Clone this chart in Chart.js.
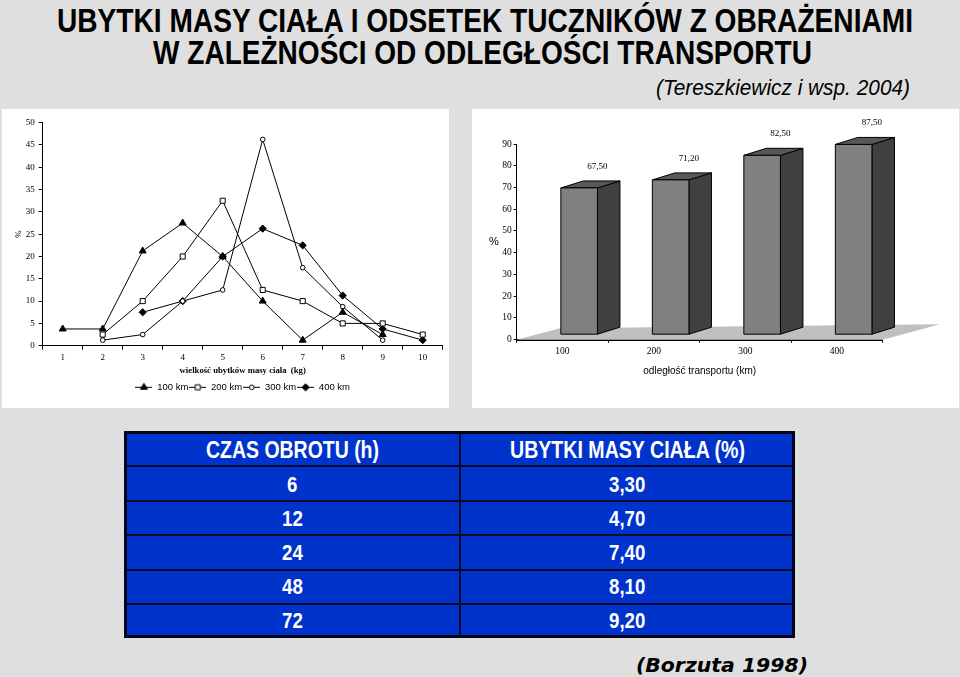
<!DOCTYPE html>
<html><head><meta charset="utf-8">
<script src="https://cdn.jsdelivr.net/npm/chart.js@4.4.1/dist/chart.umd.min.js"></script>
<style>
html,body{margin:0;padding:0;}
body{width:960px;height:677px;background:#dfdfdf;position:relative;overflow:hidden;}
.t{position:absolute;white-space:nowrap;transform-origin:0 0;}
.panel{position:absolute;background:#fff;}
.panel canvas{position:absolute;left:0;top:0;}
#tbl{position:absolute;left:124px;top:431px;width:671px;height:207px;box-sizing:border-box;background:#0033cc;border:3px solid #05051a;}
.hl{position:absolute;left:0;width:100%;height:2px;background:#0a0a30;}
.vl{position:absolute;top:0;height:100%;width:2px;background:#0a0a30;}
</style></head>
<body>
<div class="panel" id="pl" style="left:2px;top:109px;width:447px;height:299px;"><canvas id="c1" width="447" height="299"></canvas></div>
<div class="panel" id="pr" style="left:472px;top:109px;width:487px;height:299px;"><canvas id="c2" width="487" height="299"></canvas></div>
<div id="tbl"></div>
<script>
// ---------- data ----------
const lossLabels = ['1','2','3','4','5','6','7','8','9','10'];
const seriesNames = ['100 km','200 km','300 km','400 km'];
const km100 = [3.75, 3.75, 21.25, 27.5, 20, 10, 1.25, 7.5, 2.5, null];
const km200 = [null, 2.5, 10, 20, 32.5, 12.5, 10, 5, 5, 2.5];
const km300 = [null, 1.25, 2.5, 10, 12.5, 46.25, 17.5, 8.75, 1.25, null];
const km400 = [null, null, 7.5, 10, 20, 26.25, 22.5, 11.25, 3.75, 1.25];
const leftYTicks = [0, 50, 5];   // min, max, step

const distLabels = ['100','200','300','400'];
const injuredPct = [67.5, 71.2, 82.5, 87.5];
const rightYTicks = [0, 90, 10];

const tableHead = ['CZAS OBROTU (h)', 'UBYTKI MASY CIAŁA (%)'];
const tableHours = ['6','12','24','48','72'];
const tableLoss = ['3,30','4,70','7,40','8,10','9,20'];

// ---------- text helper ----------
function placeText(txt, o){
  const d = document.createElement('div');
  d.className = 't';
  d.textContent = txt;
  d.style.font = (o.style||'normal')+' '+(o.weight||'normal')+' '+o.size+'px '+o.family;
  d.style.lineHeight = '1';
  d.style.color = o.color || '#000';
  document.body.appendChild(d);
  const w = d.getBoundingClientRect().width;
  const s = o.width ? o.width / w : (o.scale || 1);
  const left = (o.left !== undefined) ? o.left : o.center - w*s/2;
  d.style.left = left + 'px';
  d.style.top = (o.baseline - 0.846*o.size) + 'px';
  d.style.transform = 'scaleX(' + s + ')';
  return s;
}
const NARROW = '"Liberation Sans Narrow","Liberation Sans",Arial,sans-serif';
placeText('UBYTKI MASY CIAŁA I ODSETEK TUCZNIKÓW Z OBRAŻENIAMI', {family:NARROW, weight:'bold', size:33, left:57, width:856, baseline:32});
placeText('W ZALEŻNOŚCI OD ODLEGŁOŚCI TRANSPORTU', {family:NARROW, weight:'bold', size:33, left:153, width:659, baseline:64});
placeText('(Tereszkiewicz i wsp. 2004)', {family:NARROW, style:'italic', size:22, left:656, width:254, baseline:96});
placeText('(Borzuta 1998)', {family:'"DejaVu Sans",Verdana,sans-serif', style:'oblique', weight:'bold', size:20, left:636, width:172, baseline:672});

// ---------- table ----------
const tbl = document.getElementById('tbl');
const rowLines = [466, 500.5, 535, 569.5, 604];
rowLines.forEach(y=>{ const l=document.createElement('div'); l.className='hl'; l.style.top=(y-431-3-1)+'px'; tbl.appendChild(l); });
const vline = document.createElement('div'); vline.className='vl'; vline.style.left=(460-124-3-1)+'px'; tbl.appendChild(vline);
const colCenters = [292, 627.5];
const s1 = placeText(tableHead[0], {family:NARROW, weight:'bold', size:23, center:colCenters[0], width:173, baseline:458, color:'#fff'});
const s2 = placeText(tableHead[1], {family:NARROW, weight:'bold', size:23, center:colCenters[1], width:235, baseline:458, color:'#fff'});
const rowBase = [493, 527, 561, 595, 629];
tableHours.forEach((h,i)=>{
  placeText(h, {family:NARROW, weight:'bold', size:22, center:colCenters[0], scale:(s1+s2)/2, baseline:rowBase[i], color:'#fff'});
  placeText(tableLoss[i], {family:NARROW, weight:'bold', size:22, center:colCenters[1], scale:(s1+s2)/2, baseline:rowBase[i], color:'#fff'});
});

// ---------- left chart ----------
const SERIF = '"Liberation Serif","Times New Roman",serif';
const SANS = '"Liberation Sans",Arial,sans-serif';
const markers = [
  {style:'triangle', r:4, fill:'#000'},
  {style:'rect', r:3.6, fill:'#fff'},
  {style:'circle', r:2.3, fill:'#fff'},
  {style:'rectRot', r:3.6, fill:'#000'}
];
function makeIcon(m){
  const c = document.createElement('canvas'); c.width = 17; c.height = 11;
  const g = c.getContext('2d');
  g.strokeStyle = '#000'; g.lineWidth = 1;
  g.beginPath(); g.moveTo(0,5.5); g.lineTo(17,5.5); g.stroke();
  const cx = 8.5, cy = 5.5, r = m.r;
  g.beginPath();
  if (m.style === 'triangle'){
    g.moveTo(cx, cy - r); g.lineTo(cx + r*Math.sin(Math.PI/3), cy + r/2); g.lineTo(cx - r*Math.sin(Math.PI/3), cy + r/2); g.closePath();
  } else if (m.style === 'rect'){
    const h = r*Math.SQRT1_2; g.rect(cx-h, cy-h, 2*h, 2*h);
  } else if (m.style === 'circle'){
    g.arc(cx, cy, r, 0, Math.PI*2);
  } else {
    g.moveTo(cx, cy-r); g.lineTo(cx+r, cy); g.lineTo(cx, cy+r); g.lineTo(cx-r, cy); g.closePath();
  }
  g.fillStyle = m.fill; g.fill(); g.stroke();
  return c;
}
const icons = markers.map(makeIcon);
const seriesData = [km100, km200, km300, km400];

new Chart(document.getElementById('c1'), {
  type: 'line',
  data: {
    labels: lossLabels,
    datasets: seriesData.map((d,i)=>({
      label: seriesNames[i], data: d,
      borderColor:'#000', borderWidth:1, tension:0, fill:false,
      pointStyle: markers[i].style, pointRadius: markers[i].r,
      pointBackgroundColor: markers[i].fill, pointBorderColor:'#000', pointBorderWidth:1
    }))
  },
  options: {
    responsive:false, animation:false, devicePixelRatio:1,
    layout:{padding:{left:0, top:13.7, right:6.3, bottom:5.95}},
    plugins:{
      tooltip:{enabled:false},
      legend:{
        position:'bottom', fullSize:false,
        labels:{
          usePointStyle:true, pointStyleWidth:17, padding:1, color:'#000',
          font:{family:SANS, size:9.5},
          generateLabels(chart){
            const items = Chart.defaults.plugins.legend.labels.generateLabels(chart);
            items.forEach((it,i)=>{ it.pointStyle = icons[i]; it.fontColor = '#000'; });
            return items;
          }
        }
      }
    },
    scales:{
      x:{
        offset:true,
        grid:{display:true, drawOnChartArea:false, drawTicks:true, tickLength:4, color:'#000', offset:true},
        border:{display:true, color:'#000', width:1},
        ticks:{color:'#000', font:{family:SERIF, size:9}, padding:3, maxRotation:0, autoSkip:false},
        title:{display:true, text:'wielkość ubytków masy ciała  (kg)', color:'#000', font:{family:SERIF, size:8.7, weight:'bold'}, padding:{top:0, bottom:5.75}},
        afterFit(s){ s.height = 35.85; }
      },
      y:{
        min:leftYTicks[0], max:leftYTicks[1],
        grid:{display:true, drawOnChartArea:false, drawTicks:true, tickLength:4, color:'#000'},
        border:{display:true, color:'#000', width:1},
        ticks:{stepSize:leftYTicks[2], color:'#000', font:{family:SERIF, size:9}, padding:4},
        title:{display:true, text:'%', color:'#000', font:{family:SERIF, size:9}, padding:{top:11, bottom:0}},
        afterFit(s){ s.width = 40.7; }
      }
    }
  }
});

// ---------- right chart ----------
const OX = 16.7, OY = -5;     // front-face shift into depth
const DX = 22.5, DY = -7;     // bar depth
const bar3d = {
  id:'bar3d',
  beforeDatasetsDraw(chart){
    const {ctx, chartArea:a} = chart;
    const y0 = chart.scales.y.getPixelForValue(0);
    ctx.save();
    ctx.fillStyle = '#c0c0c0';
    ctx.beginPath();
    ctx.moveTo(a.left, y0);
    ctx.lineTo(a.left + 43.3, y0 - 11.4);
    ctx.lineTo(a.right + 57.3, y0 - 15.4);
    ctx.lineTo(a.right, y0);
    ctx.closePath(); ctx.fill();
    ctx.strokeStyle = '#000'; ctx.lineWidth = 1;
    ctx.beginPath(); ctx.moveTo(a.left, Math.round(y0)+0.5); ctx.lineTo(a.right, Math.round(y0)+0.5); ctx.stroke();
    ctx.restore();
  },
  afterDatasetsDraw(chart){
    const {ctx} = chart;
    const meta = chart.getDatasetMeta(0);
    const vals = chart.data.datasets[0].data;
    ctx.save();
    ctx.lineWidth = 1; ctx.strokeStyle = '#000'; ctx.lineJoin = 'miter';
    meta.data.forEach((el,i)=>{
      const p = el.getProps(['x','y','base','width'], true);
      const l = p.x - p.width/2 + OX, r = p.x + p.width/2 + OX, t = p.y + OY, b = p.base + OY;
      // side
      ctx.beginPath(); ctx.moveTo(r,t); ctx.lineTo(r+DX,t+DY); ctx.lineTo(r+DX,b+DY); ctx.lineTo(r,b); ctx.closePath();
      ctx.fillStyle = '#404040'; ctx.fill(); ctx.stroke();
      // top
      ctx.beginPath(); ctx.moveTo(l,t); ctx.lineTo(l+DX,t+DY); ctx.lineTo(r+DX,t+DY); ctx.lineTo(r,t); ctx.closePath();
      ctx.fillStyle = '#585858'; ctx.fill(); ctx.stroke();
      // front
      ctx.beginPath(); ctx.rect(l, t, r-l, b-t);
      ctx.fillStyle = '#808080'; ctx.fill(); ctx.stroke();
      // value label
      ctx.fillStyle = '#000'; ctx.font = '9px ' + SERIF; ctx.textAlign = 'center'; ctx.textBaseline = 'middle';
      ctx.fillText(vals[i].toFixed(2).replace('.', ','), r, t - 21.3);
    });
    ctx.restore();
  },
  afterDraw(chart){
    const {ctx} = chart;
    ctx.save();
    ctx.fillStyle = '#000'; ctx.font = '11px ' + SANS; ctx.textAlign = 'center'; ctx.textBaseline = 'middle';
    ctx.fillText('%', 22, 133);
    ctx.restore();
  }
};

new Chart(document.getElementById('c2'), {
  type:'bar',
  data:{
    labels: distLabels,
    datasets:[{data: injuredPct, backgroundColor:'rgba(0,0,0,0)', borderWidth:0, barPercentage:0.4, categoryPercentage:1.0}]
  },
  options:{
    responsive:false, animation:false, devicePixelRatio:1,
    layout:{padding:{left:0, top:35, right:76.3, bottom:28.3}},
    plugins:{legend:{display:false}, tooltip:{enabled:false}},
    scales:{
      x:{
        offset:true,
        grid:{display:true, drawOnChartArea:false, drawTicks:true, tickLength:3, color:'#000', offset:true},
        border:{display:true, color:'#000', width:1},
        ticks:{color:'#000', font:{family:SERIF, size:9.5}, padding:3, maxRotation:0},
        title:{display:true, text:'odległość transportu (km)', color:'#000', font:{family:SANS, size:10}, padding:{top:0, bottom:2.7}},
        afterFit(s){ s.height = 40; }
      },
      y:{
        min:rightYTicks[0], max:rightYTicks[1],
        grid:{display:true, drawOnChartArea:false, drawTicks:true, tickLength:3, color:'#000'},
        border:{display:true, color:'#000', width:1},
        ticks:{stepSize:rightYTicks[2], color:'#000', font:{family:SERIF, size:9.5}, padding:2},
        afterFit(s){ s.width = 44.7; }
      }
    }
  },
  plugins:[bar3d]
});
</script>
</body></html>
